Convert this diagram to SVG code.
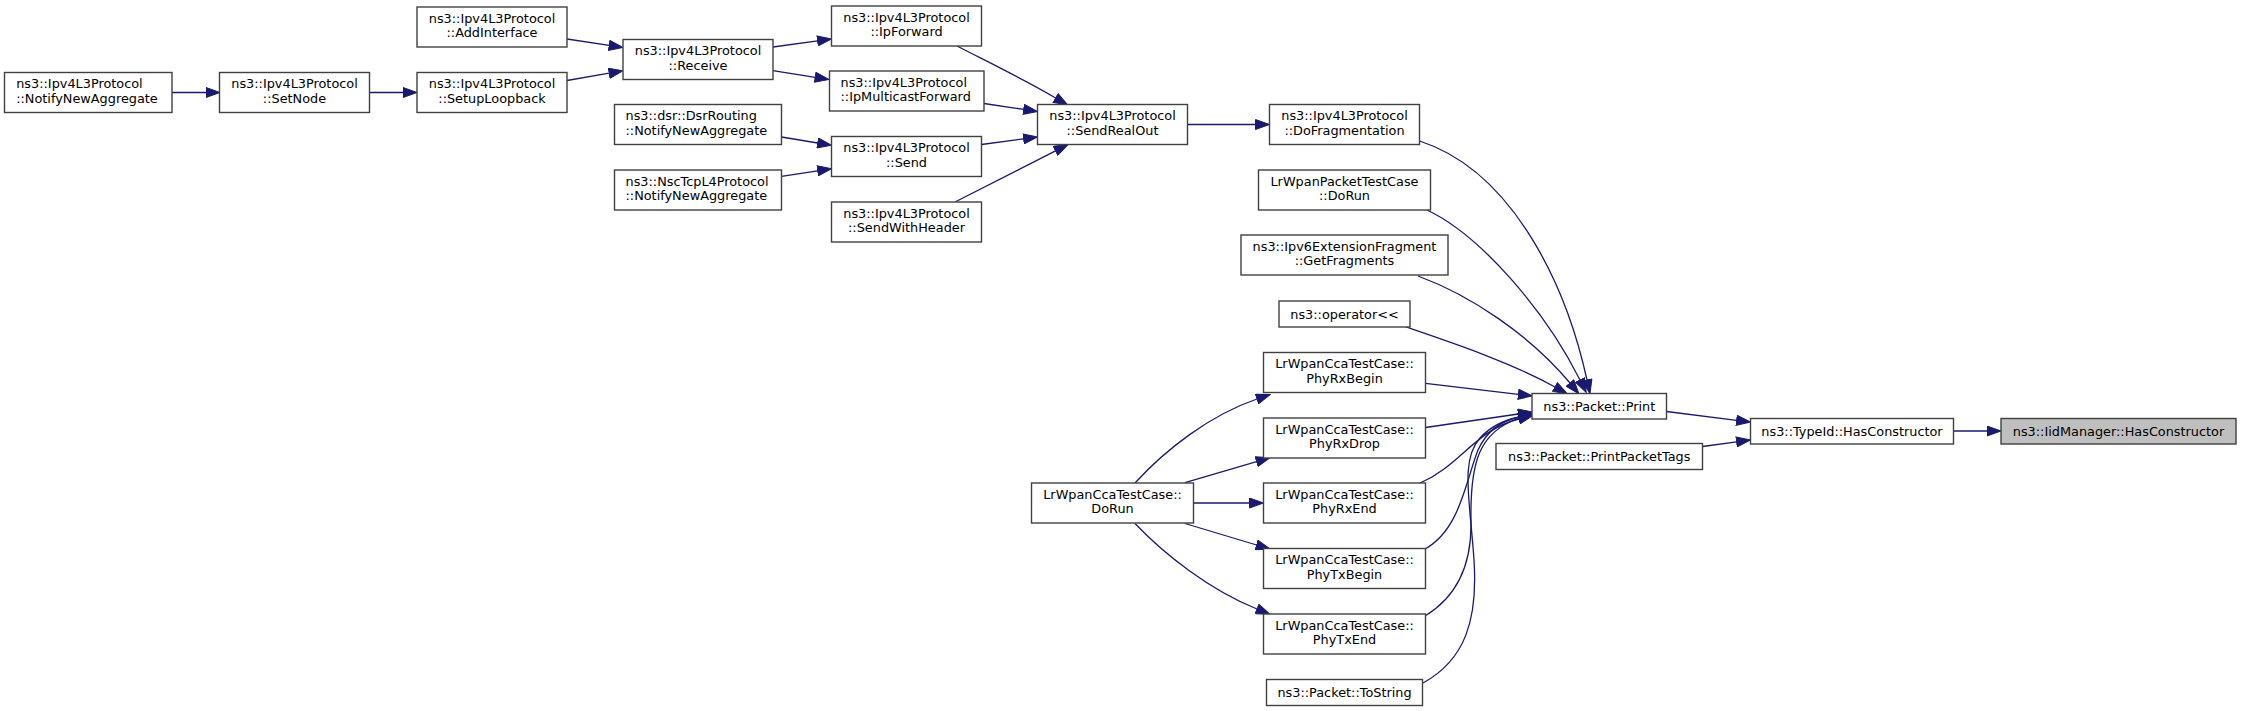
<svg xmlns="http://www.w3.org/2000/svg" width="2241" height="711" viewBox="0 0 2241 711">
<style>
.n rect{fill:#ffffff;stroke:#404040;stroke-width:1.4}
.hl rect{fill:#bfbfbf;stroke:#404040;stroke-width:1.4}
text{font-family:"DejaVu Sans","Liberation Sans",sans-serif;font-size:12.85px;fill:#000000}
.c text{text-anchor:middle}
.l text{text-anchor:start}
.e path{fill:none;stroke:#191970;stroke-width:1.3;marker-end:url(#a)}
</style>
<defs>
<marker id="a" markerUnits="userSpaceOnUse" markerWidth="15" markerHeight="11" viewBox="0 0 15 11" refX="0.5" refY="5.5" orient="auto">
<path d="M0.5,0.5 L14.5,5.5 L0.5,10.5 z" fill="#191970" stroke="#191970" stroke-width="1"/>
</marker>
</defs>
<rect width="2241" height="711" fill="#ffffff"/>
<g id="edges" class="e">
<path d="M172,92.5 L206,92.5"/>
<path d="M369.5,92.5 L403,92.5"/>
<path d="M567,80.5 L609.2,73.2"/>
<path d="M567,39 L609.2,45.4"/>
<path d="M773,47 L817.6,40.9"/>
<path d="M773,70.7 L815.2,77.3"/>
<path d="M781.5,137 L817.7,143"/>
<path d="M781.5,176.3 L817.7,170.8"/>
<path d="M957,46 C990,63 1025,80 1055.6,98"/>
<path d="M984,103.5 L1023.7,109.4"/>
<path d="M981.5,144.5 L1023.6,138.9"/>
<path d="M955,202 C990,184 1025,166 1055.5,150.8"/>
<path d="M1187.5,124.5 L1255.5,124.5"/>
<path d="M1419.5,141 C1510,170 1565,280 1587,380"/>
<path d="M1427,210 C1480,235 1545,310 1580,380"/>
<path d="M1418,276 C1470,295 1530,335 1570,383"/>
<path d="M1406,327 C1450,342 1510,362 1555,387"/>
<path d="M1425.5,383.3 L1518.4,394.3"/>
<path d="M1425.5,427.5 L1518.4,414"/>
<path d="M1420,483 C1460,466 1475,430 1519,419"/>
<path d="M1425,549 C1460,530 1466,480 1478,450 C1488,428 1505,420 1519,417"/>
<path d="M1425,616 C1460,595 1472,560 1471,520 C1470,460 1480,432 1519,418"/>
<path d="M1423,683 C1465,660 1478,620 1474,560 C1470,500 1460,460 1480,438 C1490,427 1505,420 1519,417"/>
<path d="M1135,483 C1165,450 1210,415 1257,399"/>
<path d="M1185,482.7 L1256.6,461.6"/>
<path d="M1193.5,503 L1249.5,503"/>
<path d="M1185,523.5 L1256.6,545"/>
<path d="M1135,523.5 C1165,555 1210,590 1257,609"/>
<path d="M1666.5,411.5 L1736.6,420.3"/>
<path d="M1702.5,446.5 L1736.6,441.9"/>
<path d="M1954,431 L1987,431"/>
</g>
<g id="n1" class="n l"><rect x="4.5" y="72.5" width="167.5" height="40"/><text x="16.2" y="88">ns3::Ipv4L3Protocol</text><text x="16.2" y="102.7">::NotifyNewAggregate</text></g>
<g id="n2" class="n c"><rect x="219.5" y="72.5" width="150" height="40"/><text x="294.5" y="88">ns3::Ipv4L3Protocol</text><text x="294.5" y="102.7">::SetNode</text></g>
<g id="n3" class="n c"><rect x="417" y="72.5" width="150" height="40"/><text x="492" y="88">ns3::Ipv4L3Protocol</text><text x="492" y="102.7">::SetupLoopback</text></g>
<g id="n4" class="n c"><rect x="417" y="7" width="150" height="40"/><text x="492" y="22.5">ns3::Ipv4L3Protocol</text><text x="492" y="37.2">::AddInterface</text></g>
<g id="n5" class="n c"><rect x="623" y="39.5" width="150" height="40"/><text x="698" y="55">ns3::Ipv4L3Protocol</text><text x="698" y="69.7">::Receive</text></g>
<g id="n6" class="n l"><rect x="614.5" y="104.5" width="167" height="40"/><text x="625.5" y="120">ns3::dsr::DsrRouting</text><text x="625.5" y="134.7">::NotifyNewAggregate</text></g>
<g id="n7" class="n l"><rect x="614.5" y="170" width="167" height="40"/><text x="625.5" y="185.5">ns3::NscTcpL4Protocol</text><text x="625.5" y="200.2">::NotifyNewAggregate</text></g>
<g id="n8" class="n c"><rect x="831.5" y="6" width="150" height="40"/><text x="906.5" y="21.5">ns3::Ipv4L3Protocol</text><text x="906.5" y="36.2">::IpForward</text></g>
<g id="n9" class="n l"><rect x="829.5" y="71" width="154.5" height="40"/><text x="840.5" y="86.5">ns3::Ipv4L3Protocol</text><text x="840.5" y="101.2">::IpMulticastForward</text></g>
<g id="n10" class="n c"><rect x="831.5" y="136.5" width="150" height="40"/><text x="906.5" y="152">ns3::Ipv4L3Protocol</text><text x="906.5" y="166.7">::Send</text></g>
<g id="n11" class="n c"><rect x="831.5" y="202" width="150" height="40"/><text x="906.5" y="217.5">ns3::Ipv4L3Protocol</text><text x="906.5" y="232.2">::SendWithHeader</text></g>
<g id="n12" class="n c"><rect x="1037.5" y="104.5" width="150" height="40"/><text x="1112.5" y="120">ns3::Ipv4L3Protocol</text><text x="1112.5" y="134.7">::SendRealOut</text></g>
<g id="n13" class="n c"><rect x="1269.5" y="104.5" width="150" height="40"/><text x="1344.5" y="120">ns3::Ipv4L3Protocol</text><text x="1344.5" y="134.7">::DoFragmentation</text></g>
<g id="n14" class="n c"><rect x="1258.5" y="170" width="172" height="40"/><text x="1344.5" y="185.5">LrWpanPacketTestCase</text><text x="1344.5" y="200.2">::DoRun</text></g>
<g id="n15" class="n c"><rect x="1241" y="235" width="207" height="40"/><text x="1344.5" y="250.5">ns3::Ipv6ExtensionFragment</text><text x="1344.5" y="265.2">::GetFragments</text></g>
<g id="n16" class="n c"><rect x="1279" y="301" width="131" height="26"/><text x="1344.5" y="318.5">ns3::operator&lt;&lt;</text></g>
<g id="n17" class="n c"><rect x="1263.5" y="352.5" width="162" height="40"/><text x="1344.5" y="368">LrWpanCcaTestCase::</text><text x="1344.5" y="382.7">PhyRxBegin</text></g>
<g id="n18" class="n c"><rect x="1263.5" y="418" width="162" height="40"/><text x="1344.5" y="433.5">LrWpanCcaTestCase::</text><text x="1344.5" y="448.2">PhyRxDrop</text></g>
<g id="n19" class="n c"><rect x="1263.5" y="483" width="162" height="40"/><text x="1344.5" y="498.5">LrWpanCcaTestCase::</text><text x="1344.5" y="513.2">PhyRxEnd</text></g>
<g id="n20" class="n c"><rect x="1263.5" y="548.5" width="162" height="40"/><text x="1344.5" y="564">LrWpanCcaTestCase::</text><text x="1344.5" y="578.7">PhyTxBegin</text></g>
<g id="n21" class="n c"><rect x="1263.5" y="614" width="162" height="40"/><text x="1344.5" y="629.5">LrWpanCcaTestCase::</text><text x="1344.5" y="644.2">PhyTxEnd</text></g>
<g id="n22" class="n c"><rect x="1266.5" y="679.5" width="156" height="26"/><text x="1344.5" y="697">ns3::Packet::ToString</text></g>
<g id="n23" class="n c"><rect x="1031.5" y="483" width="162" height="40"/><text x="1112.5" y="498.5">LrWpanCcaTestCase::</text><text x="1112.5" y="513.2">DoRun</text></g>
<g id="n24" class="n c"><rect x="1532" y="393.5" width="134.5" height="25.5"/><text x="1599.25" y="410.8">ns3::Packet::Print</text></g>
<g id="n25" class="n c"><rect x="1496" y="443.5" width="206.5" height="26"/><text x="1599.25" y="461">ns3::Packet::PrintPacketTags</text></g>
<g id="n26" class="n c"><rect x="1750.5" y="418.5" width="203" height="25.5"/><text x="1852" y="435.8">ns3::TypeId::HasConstructor</text></g>
<g id="n27" class="hl c"><rect x="2001" y="418.5" width="235" height="25.5"/><text x="2118.5" y="435.8">ns3::IidManager::HasConstructor</text></g>
</svg>
